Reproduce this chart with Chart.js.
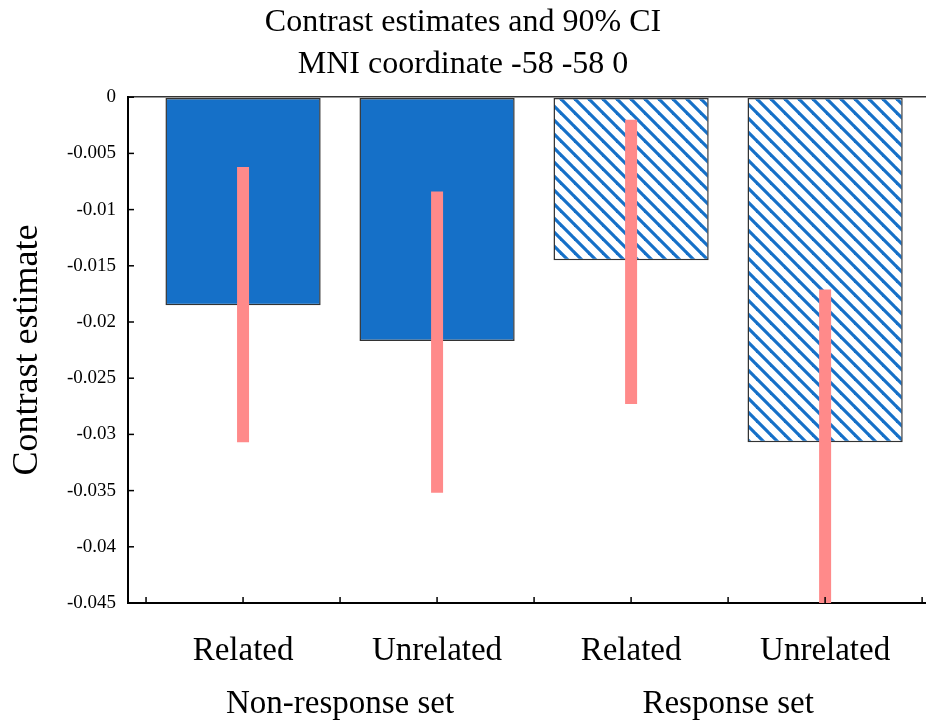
<!DOCTYPE html>
<html>
<head>
<meta charset="utf-8">
<script src="https://cdn.jsdelivr.net/npm/chart.js@4/dist/chart.umd.min.js"></script>
<style>
  body { margin: 0; background: #fff; overflow: hidden; }
  #wrap { width: 926px; height: 725px; }
</style>
</head>
<body>
<div id="wrap"><canvas id="contrastChart"></canvas></div>
<script>
// Data
const conditions = ['Related', 'Unrelated', 'Related', 'Unrelated'];
const positions = [1, 2, 3, 4];
const groups = ['Non-response set', 'Response set'];
const groupPositions = [1.5, 3.5];
const estimates = [-0.0185, -0.0217, -0.0145, -0.0307];
const ciUpper = [-0.0062, -0.0084, -0.0020, -0.0171];
const ciLower = [-0.0307, -0.0352, -0.0273, -0.0451];
const xTickValues = [0.5, 1, 1.5, 2, 2.5, 3, 3.5, 4, 4.5];
const yTickStep = 0.005;

const BLUE = '#1570c8';
const PINK = '#ff8a8a';
const SERIF = '"Liberation Serif", "Times New Roman", serif';

// diagonal hatch for the "Response set" bars
function makeHatch() {
  const s = 14;
  const c = document.createElement('canvas');
  c.width = s; c.height = s;
  const g = c.getContext('2d');
  g.fillStyle = '#fff';
  g.fillRect(0, 0, s, s);
  g.strokeStyle = BLUE;
  g.lineWidth = 3.2;
  [-s, 0, s].forEach(off => {
    g.beginPath();
    g.moveTo(-2, -2 + off);
    g.lineTo(s + 2, s + 2 + off);
    g.stroke();
  });
  return g.createPattern(c, 'repeat');
}

// small tick marks pointing into the plot area
const innerTicks = {
  id: 'innerTicks',
  afterDatasetsDraw(chart) {
    const { ctx, chartArea, scales: { x, y } } = chart;
    ctx.save();
    ctx.strokeStyle = '#000';
    ctx.lineWidth = 1.5;
    x.ticks.forEach(t => {
      const px = x.getPixelForValue(t.value);
      ctx.beginPath();
      ctx.moveTo(px, chartArea.bottom);
      ctx.lineTo(px, chartArea.bottom - 6);
      ctx.stroke();
    });
    y.ticks.forEach(t => {
      const py = y.getPixelForValue(t.value);
      ctx.beginPath();
      ctx.moveTo(chartArea.left, py);
      ctx.lineTo(chartArea.left + 6, py);
      ctx.stroke();
    });
    ctx.restore();
  }
};

function createChart() {
  const ctx = document.getElementById('contrastChart').getContext('2d');
  const hatch = makeHatch();

  new Chart(ctx, {
    type: 'bar',
    data: {
      datasets: [
        {
          label: 'Contrast estimate',
          data: positions.map((p, i) => ({ x: p, y: estimates[i] })),
          backgroundColor: [BLUE, BLUE, hatch, hatch],
          borderColor: '#333',
          borderWidth: 1.5,
          borderSkipped: false,
          grouped: false,
          barPercentage: 1.6,   // ruler step is the half-unit tick spacing
          categoryPercentage: 1,
          order: 2,
        },
        {
          label: '90% CI',
          data: positions.map((p, i) => ({ x: p, y: [ciUpper[i], ciLower[i]] })),
          backgroundColor: PINK,
          borderWidth: 0,
          grouped: false,
          maxBarThickness: 12,
          order: 1,
        },
      ],
    },
    options: {
      responsive: true,
      maintainAspectRatio: false,
      animation: false,
      layout: { padding: 0 },
      plugins: {
        legend: { display: false },
        tooltip: { enabled: false },
        title: {
          display: true,
          text: ['Contrast estimates and 90% CI', 'MNI coordinate -58 -58 0'],
          color: '#000',
          font: { family: SERIF, size: 32, weight: 'normal', lineHeight: 1.3 },
          padding: { top: 2, bottom: 12 },
        },
      },
      scales: {
        x: {
          type: 'linear',
          min: 0.407,
          max: 4.52,
          offset: false,
          afterBuildTicks: scale => {
            scale.ticks = xTickValues.map(v => ({ value: v }));
          },
          afterFit: scale => {
            scale.paddingLeft = 0;
            scale.paddingRight = 0;
            scale.height = 122;
          },
          grid: { display: false, drawTicks: false, offset: false },
          border: { display: true, color: '#000', width: 2 },
          ticks: {
            autoSkip: false,
            maxRotation: 0,
            minRotation: 0,
            padding: 22,
            color: '#000',
            font: { family: SERIF, size: 33, lineHeight: 1.6 },
            callback: value => {
              const ci = positions.indexOf(value);
              if (ci >= 0) return [conditions[ci], ''];
              const gi = groupPositions.indexOf(value);
              if (gi >= 0) return ['', groups[gi]];
              return '';
            },
          },
        },
        y: {
          min: -0.045,
          max: 0,
          afterFit: scale => {
            scale.width = 128;
          },
          grid: {
            drawTicks: false,
            color: ctx => (ctx.tick && ctx.tick.value === 0 ? '#333' : 'rgba(0,0,0,0)'),
            lineWidth: 1.5,
          },
          border: { display: true, color: '#000', width: 2 },
          ticks: {
            stepSize: yTickStep,
            padding: 12,
            color: '#000',
            font: { family: SERIF, size: 19 },
            callback: value => String(parseFloat(value.toFixed(4))),
          },
          title: {
            display: true,
            text: 'Contrast estimate',
            color: '#000',
            font: { family: SERIF, size: 36 },
            padding: { top: 6, bottom: 0 },
          },
        },
      },
    },
    plugins: [innerTicks],
  });
}

window.onload = createChart;
</script>
</body>
</html>
